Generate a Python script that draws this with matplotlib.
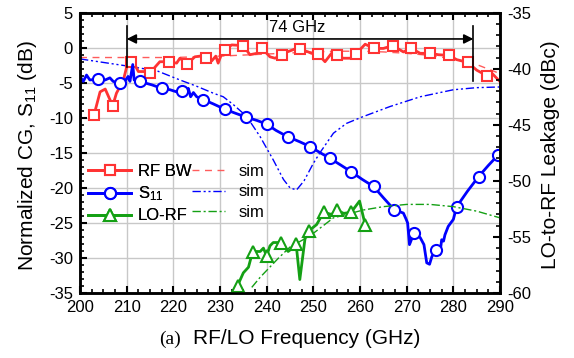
import matplotlib
matplotlib.use('Agg')
import matplotlib.pyplot as plt
from matplotlib.lines import Line2D
from matplotlib.ticker import MultipleLocator

plt.rcParams['font.family'] = ['Liberation Sans', 'DejaVu Sans']
plt.rcParams['axes.unicode_minus'] = False
plt.rcParams['mathtext.fontset'] = 'custom'
plt.rcParams['mathtext.rm'] = 'Liberation Sans'
plt.rcParams['mathtext.default'] = 'rm'

# ---- RF bandwidth (normalized conversion gain, dB) ----
rf_f = [203, 204.3, 205.4, 207, 207.8, 209.3, 210.2, 211, 211.4, 212.5, 213.6, 215,
        216.3, 217.1, 219, 220.7, 221.4, 223, 224.6, 225.7, 227, 228.2, 229.1, 229.6,
        230.4, 231.1, 232.5, 235, 236.4, 237.9, 239, 240.7, 241.8, 243.2, 244.4, 246.4,
        247.1, 248.9, 249.6, 251, 252.5, 253.9, 255, 256.4, 257.9, 259.1, 261.1, 263,
        265, 267, 269.3, 271, 272.9, 275, 276.8, 279.1, 280.7, 283.1, 285, 287.2, 288.2,
        289.8]
rf_db = [-9.6, -6.3, -5.9, -8.3, -6.5, -4.6, -2.2, -2.1, -2.0, -3.4, -3.4, -3.6,
         -2.6, -2.0, -2.0, -2.2, -1.5, -2.3, -1.3, -1.2, -1.5, -1.9, -1.2, -2.2,
         -0.8, -0.3, 0.4, 0.3, -1.0, -0.8, -0.1, -1.3, -1.5, -1.0, -0.6, -0.1,
         -0.2, -0.6, -0.8, -0.9, -2.0, -0.8, -1.0, -1.5, -1.5, -0.9, 0.5, -0.1,
         -0.1, 0.3, -0.6, -0.1, -0.8, -0.8, -1.0, -1.1, -1.7, -2.1, -3.2, -4.0, -3.6,
         -4.7]
rf_mk_f = [203, 207, 210.9, 215, 219, 223, 227, 231.1, 235, 239, 243.2, 247.1, 251,
           255, 259.1, 263, 267, 271, 275, 279.1, 283.1, 287.2]
rf_mk_db = [-9.6, -8.3, -2.1, -3.6, -2.0, -2.3, -1.5, -0.3, 0.3, -0.1, -1.0, -0.2,
            -0.9, -1.0, -0.9, -0.1, 0.3, -0.1, -0.8, -1.1, -2.1, -4.0]
rf_sim_f = [200, 210, 220, 230, 240, 250, 255, 260, 265, 270, 275, 280, 285, 290]
rf_sim_db = [-1.4, -1.4, -1.4, -1.2, -0.9, -0.6, -0.5, -0.5, -0.6, -0.8, -1.1, -1.6,
             -2.4, -3.7]

# ---- S11 (dB) ----
s11_f = [200, 200.7, 201.4, 202.1, 203.9, 205.4, 206.4, 207.1, 208.5, 209.6, 210.3,
         210.7, 211.3, 211.6, 212.9, 214.3, 215.4, 217.5, 219.3, 220.7, 221.9, 222.9,
         223.2, 223.7, 224.3, 225, 226.4, 228.5, 231.1, 233.5, 235.6, 238, 240, 242,
         244.5, 247, 249.3, 251.5, 253.6, 256, 258.1, 260.5, 262.9, 265, 267.3, 269.3,
         269.9, 270.2, 270.6, 271.6, 272.9, 273.7, 274.3, 274.9, 275.4, 276.2, 277.1,
         277.5, 277.9, 278.2, 278.9, 280, 280.7, 283, 285.4, 287.5, 289.6]
s11_db = [-4.1, -4.8, -3.9, -4.6, -4.5, -4.6, -4.3, -4.8, -5.1, -4.8, -4.1,
          -4.8, -2.4, -4.6, -4.8, -5.1, -5.3, -5.8, -6.0, -6.3, -6.2, -6.5,
          -5.8, -7.0, -6.4, -7.0, -7.4, -8.0, -8.8, -9.4, -9.9, -10.4, -10.9, -11.8,
          -12.7, -13.4, -14.1, -15.0, -15.8, -16.8, -17.7, -18.8, -19.8, -21.4, -23.1, -23.6,
          -24.5, -25.0, -28.1, -26.4, -27.1, -28.1, -30.7, -30.9, -29.8, -28.9, -29.5,
          -27.4, -27.6, -26.7, -25.5, -24.5, -22.7, -20.5, -18.4, -16.8, -15.3]
s11_mk_f = [203.9, 208.5, 212.9, 217.5, 221.9, 226.4, 231.1, 235.6, 240, 244.5, 249.3,
            253.6, 258.1, 262.9, 267.3, 271.6, 276.2, 280.7, 285.4, 289.6]
s11_mk_db = [-4.5, -5.1, -4.8, -5.8, -6.2, -7.4, -8.8, -9.9, -10.9, -12.7, -14.1,
             -15.8, -17.7, -19.8, -23.1, -26.4, -28.9, -22.7, -18.4, -15.3]
s11_sim_f = [200, 205, 210, 216.5, 221.4, 225, 228.6, 230.7, 233, 235.7, 238.6, 241.4,
             243.6, 245, 246.4, 248, 250, 251.4, 254.3, 257.1, 260.4, 266.4, 272.9,
             280, 285, 290]
s11_sim_db = [-1.6, -2.1, -2.6, -3.3, -4.6, -5.5, -6.5, -7.0, -8.2, -9.8, -12.7, -16.0,
              -18.8, -20.0, -20.3, -19.0, -16.5, -15.0, -12.2, -10.8, -9.9, -8.4, -7.0,
              -6.0, -5.7, -5.6]

# ---- LO-to-RF leakage (dBc) ----
lo_f = [233.6, 235, 236.1, 237, 238.6, 239.3, 240, 240.7, 241.4, 243, 244.6, 245.5,
        246.3, 247.1, 248.2, 248.9, 250.7, 251.8, 252.3, 253.9, 255, 256.5, 258.1,
        259.9, 261.1]
lo_dbc = [-59.5, -58.2, -57.7, -56.3, -56.3, -56.0, -56.7, -55.8, -55.5, -55.5, -56.3,
          -56.0, -55.6, -58.8, -55.2, -54.5, -53.9, -53.1, -52.8, -53.0, -52.6, -52.9,
          -52.8, -51.8, -53.9]
lo_mk_f = [233.9, 237, 240, 243, 246.3, 249, 252.2, 255, 258.1, 261.1]
lo_mk_dbc = [-59.4, -56.3, -56.7, -55.5, -55.6, -54.5, -52.8, -52.6, -52.8, -53.9]
lo_sim_f = [236.8, 238.6, 242.5, 245, 249.3, 254.3, 260.7, 265, 270, 275, 280, 285, 290]
lo_sim_dbc = [-59.5, -58.6, -56.9, -55.9, -54.9, -53.3, -52.6, -52.3, -52.1, -52.1,
              -52.3, -52.7, -53.3]

red = '#ff3333'
red_sim = '#ff5c5c'
blue = '#0000ff'
green = '#14a014'

fig = plt.figure(figsize=(5.74, 3.58), dpi=100)
ax = fig.add_axes([0.1394, 0.1816, 0.7317, 0.7830])
ax2 = ax.twinx()

ax.grid(True, which='major', color='#c8c8c8', lw=1.0)
ax.set_axisbelow(True)

mk = dict(markerfacecolor='white', markeredgewidth=1.5, linestyle='none')

ax.plot(rf_sim_f, rf_sim_db, color=red_sim, lw=1.0, dashes=(5, 4))
ax.plot(s11_sim_f, s11_sim_db, color=blue, lw=1.0, dashes=(6, 2, 1.5, 2, 1.5, 2))
ax.plot(rf_f, rf_db, color=red, lw=2.0)
ax.plot(rf_mk_f, rf_mk_db, marker='s', ms=7, color=red, **mk)
ax.plot(s11_f, s11_db, color=blue, lw=2.0)
ax.plot(s11_mk_f, s11_mk_db, marker='o', ms=8, color=blue, **mk)

ax2.plot(lo_sim_f, lo_sim_dbc, color=green, lw=1.0, dashes=(6, 2, 1.5, 2))
ax2.plot(lo_f, lo_dbc, color=green, lw=2.0)
ax2.plot(lo_mk_f, lo_mk_dbc, marker='^', ms=9, color=green, **mk)

# 74 GHz bandwidth annotation
ax.plot([210, 210], [-2.7, 3.1], color='k', lw=1.2)
ax.plot([284.3, 284.3], [-4.7, 3.1], color='k', lw=1.2)
ax.annotate('', xy=(210, 1.25), xytext=(284.3, 1.25),
            arrowprops=dict(arrowstyle='<|-|>', color='k', lw=1.2,
                            shrinkA=0, shrinkB=0, mutation_scale=14))
ax.text(246.5, 1.75, '74 GHz', ha='center', va='bottom', fontsize=12)

ax.set_xlim(200, 290)
ax.set_ylim(-35, 5)
ax2.set_ylim(-60, -35)
ax.xaxis.set_major_locator(MultipleLocator(10))
ax.xaxis.set_minor_locator(MultipleLocator(2.5))
ax.yaxis.set_major_locator(MultipleLocator(5))
ax.yaxis.set_minor_locator(MultipleLocator(1))
ax2.yaxis.set_major_locator(MultipleLocator(5))
ax2.yaxis.set_minor_locator(MultipleLocator(1))

for a in (ax, ax2):
    for s in a.spines.values():
        s.set_linewidth(1.8)
    a.tick_params(which='major', direction='in', length=5, width=1.5, labelsize=12, pad=5)
    a.tick_params(which='minor', direction='in', length=3, width=1.2)
ax.tick_params(which='both', top=True, right=False)

# labels
fig.text(28 / 574, 0.565, 'Normalized CG, S$_{11}$ (dB)', rotation=90,
         ha='center', va='center', fontsize=15)
fig.text(550 / 574, 0.567, 'LO-to-RF Leakage (dBc)', rotation=90,
         ha='center', va='center', fontsize=15)
fig.text(159 / 574, 1 - 344 / 358, '(a)', family='Liberation Serif', fontsize=14,
         ha='left', va='baseline')
fig.text(193 / 574, 1 - 344 / 358, 'RF/LO Frequency (GHz)', fontsize=15,
         ha='left', va='baseline')

# legends
meas_h = [Line2D([], [], color=red, lw=2, marker='s', ms=7, mfc='white', mew=1.5),
          Line2D([], [], color=blue, lw=2, marker='o', ms=8, mfc='white', mew=1.5),
          Line2D([], [], color=green, lw=2, marker='^', ms=9, mfc='white', mew=1.5)]
sim_h = [Line2D([], [], color=red_sim, lw=1, dashes=(5, 4)),
         Line2D([], [], color=blue, lw=1, dashes=(6, 2, 1.5, 2, 1.5, 2)),
         Line2D([], [], color=green, lw=1, dashes=(6, 2, 1.5, 2))]
leg1 = ax.legend(meas_h, ['RF BW', 'S$_{11}$', 'LO-RF'], loc='upper left',
                 bbox_to_anchor=(88 / 574, 1 - 164 / 358), bbox_transform=fig.transFigure,
                 frameon=False, fontsize=12, handlelength=2.6, handletextpad=0.4,
                 labelspacing=0.32, borderpad=0, borderaxespad=0)
ax.add_artist(leg1)
leg2 = ax2.legend(sim_h, ['sim', 'sim', 'sim'], loc='upper left',
                  bbox_to_anchor=(192 / 574, 1 - 164 / 358), bbox_transform=fig.transFigure,
                  frameon=False, fontsize=12, handlelength=2.0, handletextpad=0.8,
                  labelspacing=0.32, borderpad=0, borderaxespad=0)

fig.savefig('out.png', dpi=100)
